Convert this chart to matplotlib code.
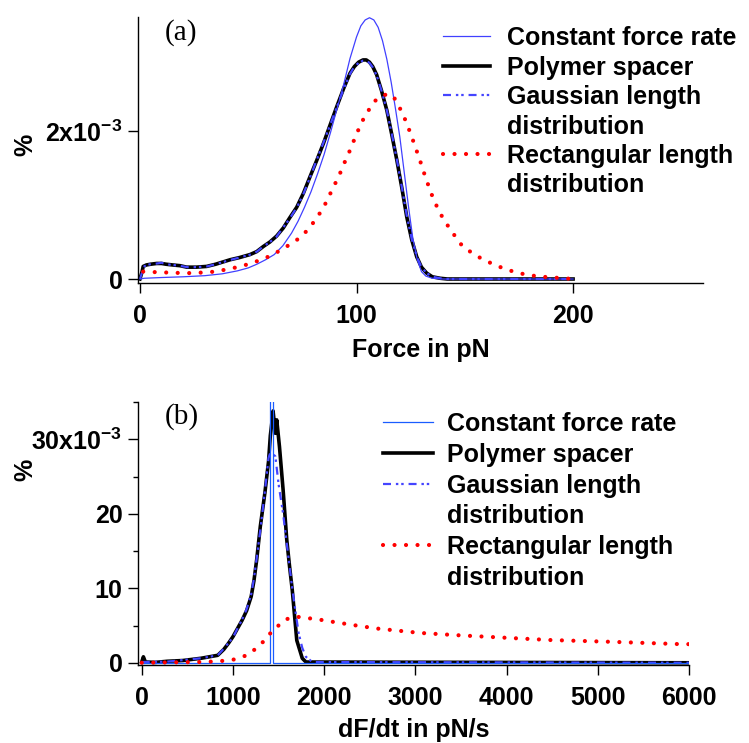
import numpy as np
import matplotlib
matplotlib.use("Agg")
import matplotlib.pyplot as plt
from matplotlib.lines import Line2D
from matplotlib.ticker import FixedLocator, FixedFormatter

plt.rcParams['font.family'] = ['Liberation Sans', 'DejaVu Sans']
plt.rcParams['font.weight'] = 'bold'
plt.rcParams['mathtext.fontset'] = 'custom'
plt.rcParams['mathtext.rm'] = 'Liberation Sans:bold'
plt.rcParams['mathtext.bf'] = 'Liberation Sans:bold'
plt.rcParams['mathtext.it'] = 'Liberation Sans:bold'

labels = ["Constant force rate", "Polymer spacer", "Gaussian length", "distribution",
          "Rectangular length", "distribution"]

# ---- panel (a): force histograms, values in units of 1e-3 %
const_a_x = [0, 2, 10, 20, 30, 38, 45, 50, 54, 58, 62, 66, 70, 73, 76, 79, 82, 85, 88, 91, 94,
             97, 100, 102, 104, 106, 108, 110, 112, 114, 116, 118, 120, 122, 124, 126, 128,
             130, 132, 135, 140, 200]
const_a_y = [0.0, 0.01, 0.02, 0.03, 0.045, 0.07, 0.11, 0.15, 0.2, 0.26, 0.33, 0.45, 0.62, 0.78,
             0.97, 1.18, 1.42, 1.68, 1.98, 2.3, 2.62, 2.98, 3.27, 3.42, 3.5, 3.53, 3.5, 3.4,
             3.22, 2.97, 2.66, 2.3, 1.92, 1.45, 0.98, 0.55, 0.27, 0.1, 0.04, 0.01, 0.0, 0.0]

poly_a_x = [0, 1, 1.5, 3, 5, 7.7, 10, 12, 15, 18.5, 21.6, 26, 30.8, 35, 41.6, 46, 50.8, 53.9,
            57, 60, 63.1, 66.2, 69, 72.4, 75.5, 78.5, 81.6, 84.7, 87.8, 90.9, 94, 97, 99, 101,
            103, 104.5, 106, 107.5, 109.3, 111.5, 114, 116.3, 118.6, 121, 123.2, 125.5, 127.8,
            130, 132.4, 135, 138.6, 142, 200]
poly_a_y = [0.0, 0.1, 0.17, 0.19, 0.2, 0.21, 0.21, 0.2, 0.19, 0.18, 0.16, 0.16, 0.17, 0.2,
            0.26, 0.29, 0.33, 0.37, 0.44, 0.5, 0.58, 0.69, 0.82, 0.97, 1.16, 1.38, 1.6, 1.83,
            2.08, 2.33, 2.57, 2.78, 2.87, 2.93, 2.96, 2.96, 2.93, 2.87, 2.76, 2.55, 2.28, 1.95,
            1.61, 1.22, 0.84, 0.53, 0.30, 0.16, 0.08, 0.03, 0.01, 0.0, 0.0]

gauss_a_x = [0, 1, 1.5, 3, 5, 8, 10, 12, 15, 18, 22, 26, 31, 35, 42, 46, 51, 54, 57, 60, 63,
             66, 69, 72.5, 75.5, 78.5, 81.5, 84.7, 87.8, 91, 94, 97, 99, 101, 103, 104.5, 106,
             107.5, 109.3, 111.5, 114, 116.3, 118.6, 121, 123.2, 125.5, 128, 130, 132.4, 135,
             138.6, 142, 200]
gauss_a_y = [0.0, 0.09, 0.16, 0.19, 0.2, 0.21, 0.22, 0.2, 0.19, 0.18, 0.16, 0.16, 0.17, 0.2,
             0.26, 0.29, 0.33, 0.37, 0.44, 0.5, 0.57, 0.69, 0.81, 0.97, 1.15, 1.37, 1.6, 1.84,
             2.08, 2.33, 2.56, 2.77, 2.87, 2.92, 2.95, 2.95, 2.92, 2.86, 2.75, 2.55, 2.28, 1.96,
             1.62, 1.23, 0.86, 0.54, 0.29, 0.16, 0.08, 0.03, 0.01, 0.0, 0.0]

rect_a_x = [1.5, 5, 10, 15, 20, 25, 30, 35, 40, 45, 50, 55, 60, 65, 70, 74, 78, 82, 85, 88, 92,
            95, 97, 100, 103, 106, 109, 112, 115, 117, 120, 123, 126, 129, 132, 135, 138, 141,
            145, 149, 154, 158.6, 164, 169, 175, 180, 186, 191, 200]
rect_a_y = [0.10, 0.095, 0.09, 0.085, 0.08, 0.08, 0.09, 0.1, 0.13, 0.16, 0.2, 0.25, 0.31, 0.39,
            0.48, 0.56, 0.68, 0.84, 0.98, 1.16, 1.40, 1.61, 1.74, 1.96, 2.15, 2.3, 2.42, 2.48,
            2.5, 2.47, 2.31, 2.12, 1.88, 1.63, 1.36, 1.12, 0.92, 0.77, 0.6, 0.44, 0.34, 0.26,
            0.19, 0.13, 0.08, 0.05, 0.03, 0.02, 0.0]

# ---- panel (b): loading-rate histograms, values in units of 1e-3 %
const_b_x = [0, 1410, 1410, 1440, 1440, 6000]
const_b_y = [0, 0, 100, 100, 0, 0]

poly_b_x = [0, 18, 40, 150, 278, 450, 648, 833, 900, 950, 1000, 1050, 1100, 1150, 1200, 1230,
            1260, 1300, 1350, 1390, 1410, 1430, 1440, 1465, 1480, 1510, 1550, 1590, 1620, 1650,
            1700, 1760, 1800, 6000]
poly_b_y = [0.1, 0.8, 0.1, 0.05, 0.2, 0.3, 0.6, 1.0, 1.8, 2.6, 3.5, 4.6, 5.7, 7.0, 8.9, 11.0,
            13.8, 18.3, 22.8, 27, 30.5, 32.6, 33.8, 30.8, 32.6, 29, 23.2, 16.5, 13.0, 9.8, 3.0,
            0.6, 0.1, 0.0]

gauss_b_x = [0, 278, 648, 833, 900, 1000, 1100, 1150, 1200, 1230, 1260, 1300, 1350, 1390, 1410,
             1440, 1465, 1500, 1550, 1600, 1650, 1690, 1720, 1760, 1800, 1870, 6000]
gauss_b_y = [0.1, 0.15, 0.6, 1.0, 1.9, 3.4, 5.8, 7.2, 9.2, 11.3, 14, 17.8, 23, 27.5, 28.2, 28,
             27.7, 24, 20, 15, 10, 6.5, 4, 2.0, 0.8, 0.1, 0.0]

rect_b_x = [0, 300, 650, 850, 1019, 1150, 1241, 1352, 1444, 1481, 1574, 1685, 1944, 2093, 2352,
            2574, 3057, 3458, 4080, 4482, 5184, 5909, 6000]
rect_b_y = [0, 0.05, 0.1, 0.2, 0.45, 1.0, 1.8, 3.05, 4.5, 4.8, 5.8, 6.2, 5.8, 5.5, 5.0, 4.6, 4.0,
            3.7, 3.3, 3.05, 2.8, 2.5, 2.5]

W, H = 749, 743
fig = plt.figure(figsize=(W / 100, H / 100), dpi=100)

def fx(px):
    return px / W

def fy(py):
    return 1 - py / H

axa = fig.add_axes([fx(138), fy(283), fx(703) - fx(138), fy(17) - fy(283)])
axb = fig.add_axes([fx(138), fy(665), fx(689) - fx(138), fy(402) - fy(665)])

red_dot = dict(color='red', lw=3.0, linestyle=(0, (0.01, 2.75)), dash_capstyle='round')
gauss_style = dict(color='#4444ff', lw=1.6, linestyle=(0, (3.6, 2.2, 1.1, 1.3, 1.1, 2.2)))

def draw(ax, cx, cy, px_, py_, gx, gy, rx, ry, ccol):
    l2, = ax.plot(px_, py_, color='black', lw=2.6, solid_joinstyle='round')
    l3, = ax.plot(gx, gy, **gauss_style)
    l1, = ax.plot(cx, cy, color=ccol, lw=0.9)
    l4, = ax.plot(rx, ry, **red_dot)
    return l1, l2, l3, l4

ha = draw(axa, const_a_x, const_a_y, poly_a_x, poly_a_y, gauss_a_x, gauss_a_y,
          rect_a_x, rect_a_y, '#4040ff')
hb = draw(axb, const_b_x, const_b_y, poly_b_x, poly_b_y, gauss_b_x, gauss_b_y,
          rect_b_x, rect_b_y, '#1a5cff')

axa.set_xlim(-0.9, 260)
axa.set_ylim(-0.054, 3.54)
axb.set_xlim(-41, 6000)
axb.set_ylim(-0.3, 35)

FS = 18
for ax in (axa, axb):
    ax.spines['top'].set_visible(False)
    ax.spines['right'].set_visible(False)
    ax.spines['left'].set_linewidth(1.0)
    ax.spines['bottom'].set_linewidth(1.0)
    ax.tick_params(which='major', direction='out', length=7.2, width=1.0, labelsize=FS)
    ax.tick_params(which='minor', direction='out', length=3.6, width=1.0)
    ax.tick_params(axis='x', pad=8)
    ax.tick_params(axis='y', pad=4)

axa.xaxis.set_major_locator(FixedLocator([0, 100, 200]))
axa.yaxis.set_major_locator(FixedLocator([0, 2]))
axa.yaxis.set_major_formatter(FixedFormatter(['0', r'2x10$^{-3}$']))

axb.xaxis.set_major_locator(FixedLocator([0, 1000, 2000, 3000, 4000, 5000, 6000]))
axb.yaxis.set_major_locator(FixedLocator([0, 10, 20, 30]))
axb.yaxis.set_minor_locator(FixedLocator([5, 15, 25, 35]))
axb.yaxis.set_major_formatter(FixedFormatter(['0', '10', '20', r'30x10$^{-3}$']))

axa.set_xlabel("Force in pN", fontsize=FS, fontweight='bold')
axb.set_xlabel("dF/dt in pN/s", fontsize=FS, fontweight='bold')
axa.xaxis.set_label_coords(0.5, -0.205)
axb.xaxis.set_label_coords(0.5, -0.2)

fig.text(fx(25), fy(145), "%", rotation=90, ha='center', va='center', fontsize=FS,
         fontweight='bold')
fig.text(fx(25), fy(470), "%", rotation=90, ha='center', va='center', fontsize=FS,
         fontweight='bold')

axa.text(0.048, 0.94, "(a)", transform=axa.transAxes, family='Liberation Serif',
         fontweight='normal', fontsize=21, va='center', ha='left')
axb.text(0.049, 0.945, "(b)", transform=axb.transAxes, family='Liberation Serif',
         fontweight='normal', fontsize=21, va='center', ha='left')

blank = Line2D([], [], color='none')
for ax, hs, anchor, hl, htp, ls in ((axa, ha, (fx(443), fy(26)), 1.88, 0.68, 0.22),
                                    (axb, hb, (fx(383), fy(412)), 2.0, 0.56, 0.27)):
    handles = [hs[0], hs[1], hs[2], blank, hs[3], blank]
    fig.legend(handles, labels, loc='upper left', bbox_to_anchor=anchor,
               bbox_transform=fig.transFigure, frameon=False, borderpad=0,
               borderaxespad=0, labelspacing=ls, handlelength=hl, handletextpad=htp,
               prop={'family': 'Liberation Sans', 'weight': 'bold', 'size': FS})

fig.savefig("out.png", dpi=100)
